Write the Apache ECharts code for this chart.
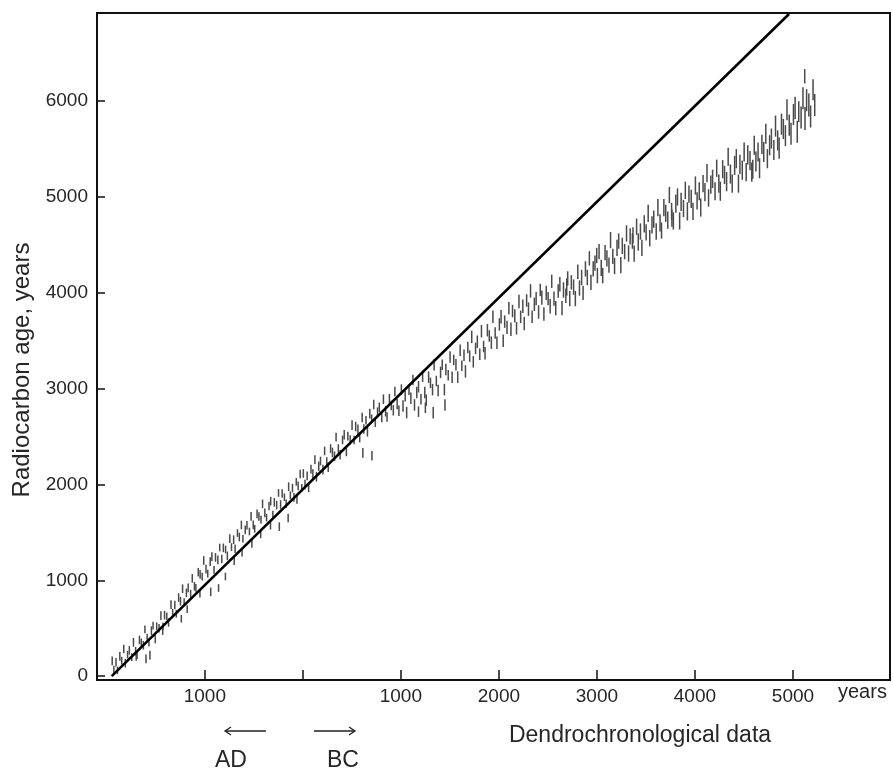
<!DOCTYPE html>
<html>
<head>
<meta charset="utf-8">
<title>Radiocarbon age vs dendrochronological age</title>
<script src="https://cdn.jsdelivr.net/npm/echarts@6/dist/echarts.min.js"></script>
<style>
  html, body { margin: 0; padding: 0; background: #fff; }
  #chart { width: 893px; height: 772px; }
</style>
</head>
<body>
<div id="chart"></div>
<script>
// Tree-ring samples as [calendar year, radiocarbon age, half-length of the dash].
// Calendar years: AD negative, BC positive.
const samplesAD = [
  [-1945, 160, 45], [-1928, 70, 40], [-1906, 145, 45], [-1891, 60, 40], [-1867, 206, 45],
  [-1848, 162, 40], [-1827, 283, 45], [-1811, 136, 45], [-1788, 225, 40], [-1770, 269, 45],
  [-1745, 199, 40], [-1728, 353, 45], [-1706, 260, 45], [-1700, 200, 40], [-1691, 219, 40],
  [-1667, 378, 45], [-1648, 352, 40], [-1627, 323, 45], [-1611, 489, 40], [-1600, 180, 45],
  [-1588, 397, 45], [-1570, 350, 40], [-1560, 220, 45], [-1545, 475, 45], [-1528, 527, 40],
  [-1506, 389, 45], [-1491, 521, 40], [-1467, 500, 45], [-1448, 632, 45], [-1430, 470, 40],
  [-1427, 518, 40], [-1411, 637, 45], [-1388, 624, 40], [-1370, 561, 45], [-1345, 746, 45],
  [-1328, 661, 40], [-1306, 743, 45], [-1291, 651, 40], [-1267, 820, 45], [-1248, 782, 45],
  [-1240, 600, 40], [-1227, 913, 45], [-1211, 772, 40], [-1188, 869, 45], [-1180, 700, 40],
  [-1170, 921, 45], [-1145, 861, 40], [-1128, 1021, 45], [-1106, 938, 45], [-1091, 921, 40],
  [-1067, 1085, 45], [-1050, 860, 40], [-1048, 1062, 45], [-1027, 1038, 40], [-1011, 1207, 45],
  [-988, 1117, 45], [-970, 1070, 40], [-945, 1195, 45], [-940, 880, 45], [-928, 1247, 45],
  [-906, 1109, 40], [-891, 1239, 45], [-867, 1213, 45], [-860, 920, 40], [-848, 1342, 40],
  [-827, 1223, 45], [-811, 1339, 45], [-790, 1040, 40], [-788, 1322, 40], [-770, 1255, 45],
  [-745, 1435, 45], [-728, 1347, 40], [-706, 1424, 45], [-700, 1200, 40], [-691, 1329, 45],
  [-667, 1493, 40], [-648, 1452, 45], [-627, 1578, 45], [-620, 1290, 40], [-611, 1434, 40],
  [-588, 1527, 45], [-570, 1575, 45], [-545, 1510, 40], [-528, 1667, 45], [-520, 1380, 40],
  [-506, 1579, 45], [-491, 1538, 40], [-467, 1694, 45], [-448, 1666, 45], [-430, 1480, 40],
  [-427, 1634, 40], [-411, 1798, 45], [-388, 1704, 45], [-370, 1654, 40], [-345, 1776, 45],
  [-330, 1570, 40], [-328, 1826, 45], [-306, 1686, 40], [-291, 1814, 45], [-267, 1785, 45],
  [-248, 1912, 40], [-240, 1560, 45], [-227, 1791, 45], [-211, 1906, 45], [-188, 1867, 40],
  [-170, 1799, 45], [-150, 1650, 45], [-145, 1977, 45], [-128, 1887, 40], [-106, 1962, 45],
  [-91, 1866, 45], [-67, 2028, 40], [-60, 1840, 40], [-48, 1986, 45], [-27, 2110, 45],
  [-11, 1965, 40]
];

const samplesEarlyBC = [
  [5, 2115, 45], [22, 2000, 50], [44, 2090, 45], [59, 1970, 50], [83, 2160, 45],
  [102, 2110, 50], [123, 2260, 45], [139, 2080, 50], [162, 2190, 50], [180, 2245, 45],
  [205, 2155, 50], [222, 2350, 45], [244, 2235, 50], [259, 2180, 50], [283, 2375, 45],
  [302, 2335, 50], [323, 2295, 50], [339, 2495, 45], [362, 2370, 50], [380, 2310, 50],
  [405, 2465, 45], [422, 2520, 50], [444, 2345, 50], [459, 2505, 45], [483, 2465, 50],
  [502, 2620, 50], [523, 2465, 45], [539, 2605, 50], [562, 2575, 50], [580, 2485, 45],
  [605, 2700, 50], [612, 2330, 50], [622, 2580, 50], [644, 2670, 45], [659, 2550, 50],
  [683, 2740, 50], [702, 2685, 45], [705, 2300, 50], [723, 2835, 50], [739, 2650, 50],
  [762, 2760, 45], [780, 2805, 50], [805, 2705, 55], [822, 2890, 50], [844, 2765, 55],
  [859, 2705, 50], [883, 2890, 55], [902, 2825, 50], [923, 2775, 55], [939, 2970, 50],
  [962, 2840, 55], [980, 2770, 55],
  [1005, 2990, 55], [1022, 2820, 60], [1044, 2920, 55], [1059, 2750, 60], [1083, 2990, 55],
  [1102, 2900, 60], [1123, 3090, 55], [1139, 2830, 60], [1162, 2960, 60], [1180, 2760, 55],
  [1180, 3020, 60], [1205, 2890, 55], [1222, 3130, 60], [1244, 2960, 60], [1250, 2800, 55],
  [1259, 2880, 60], [1283, 3120, 60], [1302, 3060, 55], [1323, 2990, 60], [1330, 2750, 60],
  [1339, 3250, 60], [1362, 3080, 55], [1380, 2980, 60], [1405, 3170, 60], [1422, 3250, 55],
  [1444, 2990, 60], [1450, 2830, 60], [1459, 3200, 60], [1483, 3140, 55], [1502, 3330, 60],
  [1523, 3120, 60], [1539, 3300, 55], [1562, 3250, 60], [1580, 3120, 60], [1605, 3400, 60],
  [1622, 3240, 55], [1644, 3350, 60], [1659, 3180, 65], [1683, 3430, 60], [1702, 3340, 60],
  [1723, 3540, 65], [1739, 3280, 60], [1762, 3420, 60], [1780, 3490, 65], [1805, 3360, 60],
  [1822, 3600, 65], [1844, 3440, 60], [1859, 3370, 65], [1883, 3610, 65], [1902, 3550, 60],
  [1923, 3480, 65], [1939, 3750, 65], [1962, 3580, 60], [1980, 3480, 65]
];

const samplesMidBC = [
  [2005, 3670, 65], [2022, 3750, 70], [2044, 3500, 65], [2059, 3700, 65], [2083, 3640, 70],
  [2102, 3840, 65], [2123, 3620, 70], [2139, 3810, 65], [2162, 3760, 70], [2180, 3630, 65],
  [2205, 3910, 70], [2222, 3750, 65], [2244, 3860, 70], [2259, 3680, 70], [2283, 3920, 65],
  [2302, 3830, 70], [2323, 4020, 70], [2339, 3750, 65], [2362, 3880, 70], [2380, 3940, 70],
  [2405, 3800, 70], [2422, 4030, 65], [2438, 3950, 75], [2459, 3780, 70], [2483, 4000, 75],
  [2502, 3940, 70], [2523, 3860, 75], [2539, 4120, 70], [2562, 3940, 75], [2580, 3840, 75],
  [2605, 4020, 70], [2622, 4090, 75], [2644, 3840, 75], [2659, 4030, 80], [2683, 3970, 75],
  [2692, 4060, 90], [2702, 4150, 75], [2723, 3940, 80], [2739, 4110, 75], [2762, 4060, 80],
  [2780, 3940, 80], [2805, 4220, 75], [2822, 4050, 80], [2844, 4160, 80], [2859, 4000, 75],
  [2883, 4250, 80], [2902, 4160, 80], [2923, 4360, 75], [2939, 4110, 80], [2962, 4250, 80],
  [2980, 4310, 80], [2998, 4390, 80], [3005, 4180, 80], [3022, 4430, 80], [3044, 4260, 85],
  [3059, 4180, 80], [3083, 4420, 80], [3102, 4360, 85], [3123, 4290, 80], [3139, 4550, 85],
  [3162, 4380, 80], [3180, 4280, 85], [3205, 4470, 85], [3222, 4540, 80], [3244, 4290, 85],
  [3259, 4490, 85], [3283, 4430, 80], [3302, 4620, 85], [3323, 4410, 85], [3339, 4590, 85],
  [3362, 4540, 80], [3368, 4600, 85], [3380, 4410, 85], [3405, 4690, 85], [3422, 4530, 90],
  [3444, 4640, 85], [3459, 4470, 85], [3483, 4720, 90], [3502, 4630, 85], [3523, 4830, 90],
  [3539, 4570, 85], [3562, 4710, 90], [3580, 4770, 90], [3605, 4640, 85], [3622, 4890, 90],
  [3644, 4730, 90], [3659, 4650, 85], [3683, 4890, 90], [3702, 4830, 90], [3723, 4760, 90],
  [3739, 5020, 85], [3762, 4850, 90], [3765, 4780, 90], [3780, 4750, 90], [3805, 4930, 95],
  [3822, 5000, 90], [3844, 4750, 90], [3859, 4950, 95], [3883, 4880, 90], [3902, 5070, 90],
  [3923, 4850, 95], [3939, 5030, 90], [3962, 4980, 95], [3980, 4850, 90]
];

const samplesLateBC = [
  [4005, 5120, 95], [4022, 4960, 90], [4044, 5060, 95], [4059, 4890, 95], [4083, 5140, 90],
  [4102, 5050, 95], [4123, 5250, 95], [4139, 4990, 90], [4162, 5130, 95], [4180, 5190, 95],
  [4205, 5060, 95], [4222, 5300, 90], [4244, 5140, 95], [4259, 5060, 100], [4283, 5290, 95],
  [4302, 5230, 95], [4323, 5160, 100], [4339, 5420, 95], [4362, 5240, 100], [4380, 5140, 95],
  [4405, 5330, 100], [4422, 5400, 100], [4444, 5140, 95], [4459, 5340, 100], [4483, 5280, 100],
  [4502, 5470, 100], [4523, 5260, 95], [4539, 5440, 100], [4562, 5380, 100], [4580, 5260, 100],
  [4590, 5290, 100], [4605, 5540, 100], [4622, 5370, 105], [4644, 5470, 100], [4659, 5300, 105],
  [4683, 5550, 100], [4702, 5470, 105], [4723, 5660, 105], [4739, 5400, 100], [4762, 5540, 105],
  [4780, 5610, 105], [4805, 5490, 105], [4822, 5740, 110], [4844, 5590, 105], [4859, 5510, 110],
  [4883, 5760, 110], [4902, 5710, 105], [4923, 5640, 110], [4939, 5910, 110], [4962, 5750, 110],
  [4980, 5660, 115], [5005, 5860, 110], [5022, 5930, 115], [5044, 5680, 115], [5059, 5890, 110],
  [5083, 5830, 115], [5102, 6030, 115], [5120, 6260, 75], [5123, 5820, 120], [5139, 6010, 115],
  [5162, 5960, 120], [5180, 5840, 115], [5205, 6120, 110], [5222, 5960, 115]
];

// Equal-age reference line: radiocarbon age equals calendar age before AD 1950
const equalAgeLine = [[-1950, 0], [4960, 6910]];

// Axis ticks and labels
const xTickValues = [-1000, 0, 1000, 2000, 3000, 4000, 5000];
const xLabelValues = [-1000, 1000, 2000, 3000, 4000, 5000];
const yTickValues = [0, 1000, 2000, 3000, 4000, 5000, 6000];

const samples = samplesAD.concat(samplesEarlyBC, samplesMidBC, samplesLateBC);

const textFont = "'Liberation Sans', Arial, Helvetica, sans-serif";
const textColor = '#262626';

const chart = echarts.init(document.getElementById('chart'), null, { renderer: 'canvas' });

chart.setOption({
  animation: false,
  backgroundColor: '#ffffff',
  grid: {
    left: 97, right: 3, top: 13, bottom: 92,
    show: true, borderColor: '#111', borderWidth: 2, backgroundColor: 'transparent'
  },
  xAxis: {
    type: 'value',
    min: -2100, max: 5990,
    splitLine: { show: false },
    axisLine: { show: true, onZero: false, lineStyle: { color: '#111', width: 2 } },
    axisTick: { show: true, inside: true, length: 10, customValues: xTickValues,
                lineStyle: { color: '#111', width: 1.5 } },
    axisLabel: {
      customValues: xLabelValues,
      formatter: v => String(Math.abs(v)),
      margin: 7, fontSize: 19, color: textColor, fontFamily: textFont
    }
  },
  yAxis: {
    type: 'value',
    min: -40, max: 6920,
    splitLine: { show: false },
    axisLine: { show: true, onZero: false, lineStyle: { color: '#111', width: 2 } },
    axisTick: { show: true, inside: true, length: 8, customValues: yTickValues,
                lineStyle: { color: '#111', width: 1.5 } },
    axisLabel: {
      customValues: yTickValues,
      formatter: v => String(v),
      margin: 9, fontSize: 19, color: textColor, fontFamily: textFont
    }
  },
  graphic: [
    { type: 'text', x: 22, y: 370, rotation: Math.PI / 2,
      style: { text: 'Radiocarbon age, years', fontSize: 24, fill: textColor,
               fontFamily: textFont, align: 'center', verticalAlign: 'middle' } },
    { type: 'text', left: 838, top: 682,
      style: { text: 'years', fontSize: 20, fill: textColor, fontFamily: textFont } },
    { type: 'text', x: 640, y: 736,
      style: { text: 'Dendrochronological data', fontSize: 23, fill: textColor,
               fontFamily: textFont, align: 'center', verticalAlign: 'middle' } },
    { type: 'text', x: 231, y: 761,
      style: { text: 'AD', fontSize: 23, fill: textColor, fontFamily: textFont,
               align: 'center', verticalAlign: 'middle' } },
    { type: 'text', x: 343, y: 761,
      style: { text: 'BC', fontSize: 23, fill: textColor, fontFamily: textFont,
               align: 'center', verticalAlign: 'middle' } },
    // arrow pointing towards AD
    { type: 'line', shape: { x1: 225, y1: 731, x2: 266, y2: 731 },
      style: { stroke: '#222', lineWidth: 1.3 } },
    { type: 'polyline', shape: { points: [[231, 727], [225, 731], [231, 735]] },
      style: { stroke: '#222', lineWidth: 1.3, fill: null } },
    // arrow pointing towards BC
    { type: 'line', shape: { x1: 314, y1: 731, x2: 355, y2: 731 },
      style: { stroke: '#222', lineWidth: 1.3 } },
    { type: 'polyline', shape: { points: [[349, 727], [355, 731], [349, 735]] },
      style: { stroke: '#222', lineWidth: 1.3, fill: null } }
  ],
  series: [
    {
      name: 'Tree-ring samples',
      type: 'custom',
      data: samples,
      encode: { x: 0, y: 1 },
      renderItem: function (params, api) {
        const x = api.value(0);
        const y = api.value(1);
        const e = api.value(2);
        const lo = api.coord([x, y - e]);
        const hi = api.coord([x, y + e]);
        return {
          type: 'line',
          shape: { x1: lo[0], y1: lo[1], x2: hi[0], y2: hi[1] },
          style: { stroke: '#4a4a4a', lineWidth: 1.5 }
        };
      },
      z: 2
    },
    {
      name: 'Equal age',
      type: 'line',
      data: equalAgeLine,
      symbol: 'none',
      lineStyle: { color: '#000', width: 2.6 },
      z: 3
    }
  ]
});
</script>
</body>
</html>
